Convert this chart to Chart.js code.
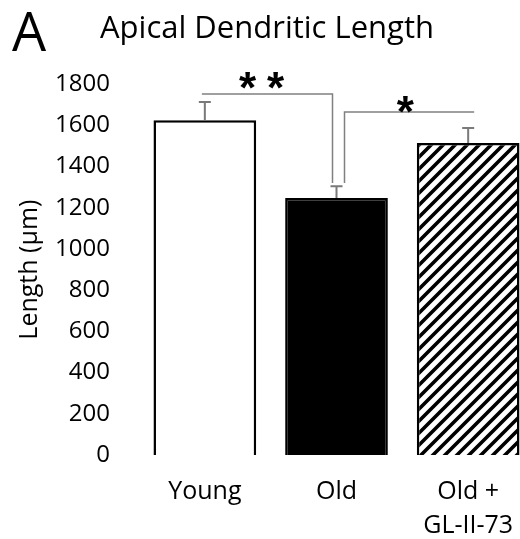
<!DOCTYPE html>
<html>
<head>
<meta charset="utf-8">
<script src="https://cdn.jsdelivr.net/npm/chart.js@4"></script>
<style>
  html, body { margin: 0; padding: 0; overflow: hidden; background: #fff; }
</style>
</head>
<body>
<canvas id="myChart" width="540" height="539"></canvas>
<script>
// data
var groups = ["Young", "Old", ["Old +", "GL-II-73"]];
var meanLength = [1625, 1247, 1514];
var semLength = [88, 58, 73];
var yTicks = [0, 200, 400, 600, 800, 1000, 1200, 1400, 1600, 1800];
// significance brackets: from group, to group, bar height, drop height
var sigFrom = [0, 1];
var sigTo = [1, 2];
var sigLevel = [1752, 1665];
var sigDrop = [1320, 1320];
var sigText = ["**", "*"];

function hatch() {
  var c = document.createElement("canvas");
  c.width = 12;
  c.height = 12;
  var g = c.getContext("2d");
  g.fillStyle = "#fff";
  g.fillRect(0, 0, 12, 12);
  g.strokeStyle = "#000";
  g.lineWidth = 3.6;
  g.beginPath();
  g.moveTo(-3, 15); g.lineTo(15, -3);
  g.moveTo(-9, 9); g.lineTo(9, -9);
  g.moveTo(3, 21); g.lineTo(21, 3);
  g.stroke();
  return g.createPattern(c, "repeat");
}

var errorBars = {
  id: "errorBars",
  afterDatasetsDraw: function (chart) {
    var ctx = chart.ctx;
    var y = chart.scales.y;
    var meta = chart.getDatasetMeta(0);
    ctx.save();
    ctx.strokeStyle = "#7a7a7a";
    ctx.lineWidth = 2;
    meta.data.forEach(function (bar, i) {
      var top = y.getPixelForValue(meanLength[i] + semLength[i]);
      ctx.beginPath();
      ctx.moveTo(bar.x, bar.y);
      ctx.lineTo(bar.x, top);
      ctx.moveTo(bar.x - 6, top);
      ctx.lineTo(bar.x + 6, top);
      ctx.stroke();
    });
    ctx.restore();
  }
};

var brackets = {
  id: "brackets",
  afterDatasetsDraw: function (chart) {
    var ctx = chart.ctx;
    var x = chart.scales.x;
    var y = chart.scales.y;
    ctx.save();
    ctx.strokeStyle = "#808080";
    ctx.lineWidth = 1.5;
    ctx.fillStyle = "#000";
    ctx.textAlign = "center";
    ctx.textBaseline = "alphabetic";
    ctx.font = "bold 44px 'Liberation Sans'";
    for (var i = 0; i < sigText.length; i++) {
      var x0 = x.getPixelForValue(sigFrom[i]);
      var x1 = x.getPixelForValue(sigTo[i]);
      var yl = y.getPixelForValue(sigLevel[i]);
      var yd = y.getPixelForValue(sigDrop[i]);
      ctx.beginPath();
      if (i === 0) {
        ctx.moveTo(x0 - 3, yl);
        ctx.lineTo(x1 - 4, yl);
        ctx.lineTo(x1 - 4, yd);
      } else {
        ctx.moveTo(x0 + 8, yd);
        ctx.lineTo(x0 + 8, yl);
        ctx.lineTo(x1 + 6, yl);
      }
      ctx.stroke();
      var mid = i === 0 ? (x0 + x1) / 2 - 9 : (x0 + x1) / 2 + 3;
      var base = i === 0 ? yl + 9 : yl + 15;
      var chars = sigText[i].split("");
      chars.forEach(function (ch, k) {
        ctx.fillText(ch, mid + (k - (chars.length - 1) / 2) * 28, base);
      });
    }
    ctx.restore();
  }
};

var panelLetter = {
  id: "panelLetter",
  afterDraw: function (chart) {
    var ctx = chart.ctx;
    ctx.save();
    ctx.fillStyle = "#000";
    ctx.font = "54px 'Open Sans'";
    ctx.textBaseline = "alphabetic";
    ctx.fillText("A", 12, 51);
    ctx.restore();
  }
};

var ctx = document.getElementById("myChart");
var myChart = new Chart(ctx, {
  type: "bar",
  data: {
    labels: groups,
    datasets: [
      {
        data: meanLength,
        backgroundColor: ["#ffffff", "#000000", hatch()],
        borderColor: "#000000",
        borderWidth: 2.5,
        barPercentage: 0.78,
        categoryPercentage: 1,
      },
    ],
  },
  options: {
    responsive: false,
    animation: false,
    layout: { padding: { left: 0, right: 6, top: 0, bottom: 0 } },
    plugins: {
      legend: { display: false },
      tooltip: { enabled: false },
      title: {
        display: true,
        text: "Apical Dendritic Length",
        color: "#000",
        font: { family: "'Open Sans'", size: 31, weight: "normal" },
        padding: { top: 11, bottom: 36 },
      },
    },
    scales: {
      x: {
        grid: { display: false, drawTicks: false },
        border: { display: false },
        ticks: {
          color: "#000",
          padding: 20,
          font: { family: "'Open Sans'", size: 25, lineHeight: 1.36 },
        },
        afterFit: function (axis) { axis.height = 84; },
      },
      y: {
        min: 0,
        max: 1800,
        afterBuildTicks: function (axis) {
          axis.ticks = yTicks.map(function (v) { return { value: v }; });
        },
        grid: { display: false, drawTicks: false },
        border: { display: false },
        ticks: {
          color: "#000",
          padding: 29,
          font: { family: "'Open Sans'", size: 24 },
          callback: function (v) { return String(v); },
        },
        title: {
          display: true,
          text: "Length (µm)",
          color: "#000",
          font: { family: "'Open Sans'", size: 25 },
          padding: { top: 15, bottom: 10 },
        },
        afterFit: function (axis) { axis.width = 139; },
      },
    },
  },
  plugins: [errorBars, brackets, panelLetter],
});
</script>
</body>
</html>
